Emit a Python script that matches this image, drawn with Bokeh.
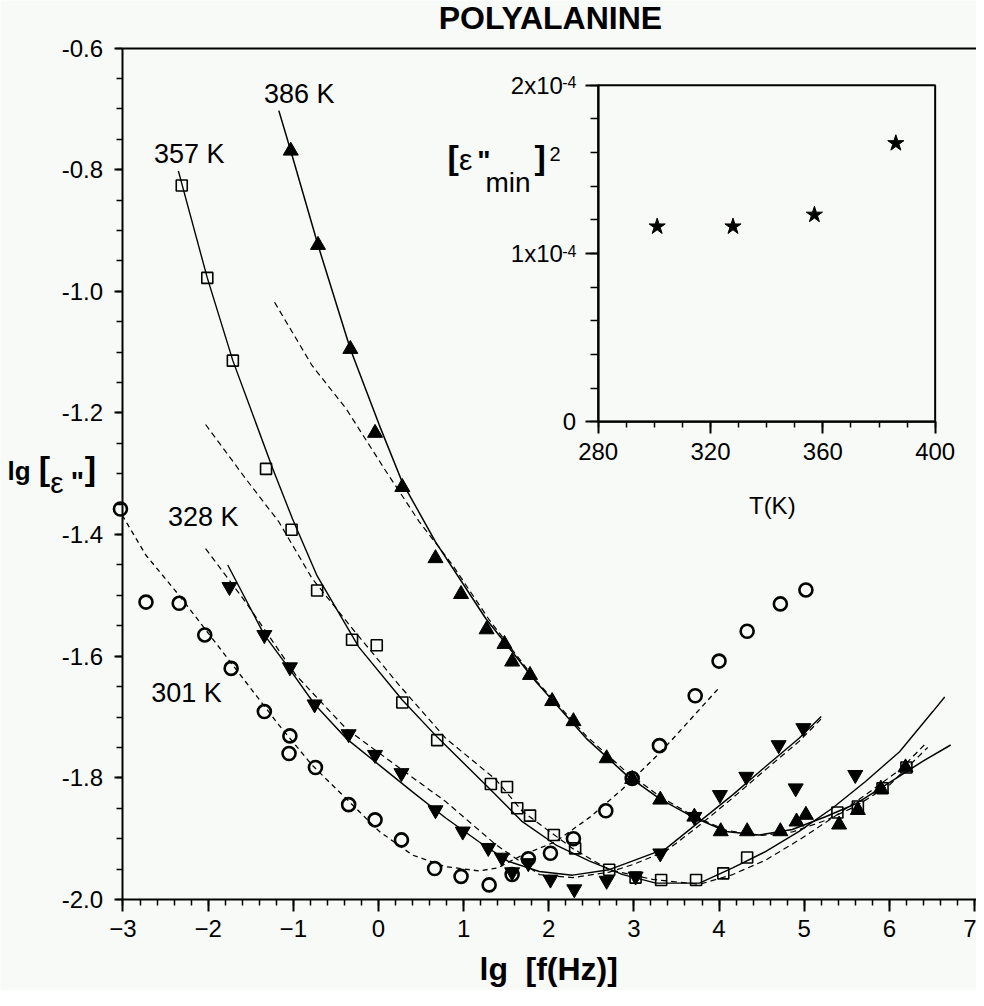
from bokeh.plotting import figure
from bokeh.models import Range1d, LinearAxis, FixedTicker, NumeralTickFormatter, Label
from bokeh.embed import file_html
from bokeh.resources import INLINE

# ---------------- data ----------------
# 301 K  (open circles)
lgf_301 = [-3.03, -2.73, -2.34, -2.04, -1.73, -1.34, -1.04, -1.05, -0.74, -0.35, -0.04, 0.27, 0.66,
           0.97, 1.30, 1.57, 1.76, 2.02, 2.29, 2.67, 2.98, 3.30, 3.72, 4.00, 4.33, 4.72, 5.02]
eps_301 = [-1.358, -1.511, -1.513, -1.565, -1.620, -1.691, -1.731, -1.760, -1.783, -1.844, -1.869,
           -1.902, -1.949, -1.962, -1.976, -1.959, -1.933, -1.924, -1.900, -1.854, -1.801, -1.747,
           -1.665, -1.608, -1.559, -1.514, -1.491]
# 328 K  (filled down triangles)
lgf_328 = [-1.75, -1.34, -1.04, -0.75, -0.35, -0.04, 0.27, 0.67, 0.99, 1.29, 1.45, 1.57, 1.76, 2.02,
           2.30, 2.68, 3.02, 3.31, 3.71, 4.01, 4.32, 4.70, 4.99, 4.90, 5.60]
eps_328 = [-1.486, -1.565, -1.618, -1.679, -1.728, -1.762, -1.792, -1.853, -1.888, -1.915, -1.931,
           -1.955, -1.940, -1.967, -1.983, -1.969, -1.962, -1.924, -1.864, -1.828, -1.798, -1.746,
           -1.718, -1.817, -1.795]
# 357 K  (open squares)
lgf_357 = [-2.31, -2.01, -1.71, -1.32, -1.02, -0.72, -0.31, -0.02, 0.28, 0.69, 1.32, 1.51, 1.63, 1.78,
           2.06, 2.31, 2.71, 3.02, 3.32, 3.73, 4.05, 4.33, 5.39, 5.63, 5.92, 6.20]
eps_357 = [-0.826, -0.978, -1.114, -1.292, -1.392, -1.492, -1.573, -1.582, -1.676, -1.738, -1.810,
           -1.815, -1.850, -1.862, -1.894, -1.916, -1.951, -1.964, -1.968, -1.968, -1.957, -1.931,
           -1.857, -1.847, -1.817, -1.783]
# 386 K  (filled up triangles)
lgf_386 = [-1.03, -0.71, -0.33, -0.04, 0.28, 0.67, 0.97, 1.27, 1.48, 1.57, 1.78, 2.04, 2.29, 2.68,
           2.98, 3.31, 3.71, 4.02, 4.33, 4.72, 4.91, 5.02, 5.41, 5.63, 5.90, 6.19]
eps_386 = [-0.769, -0.924, -1.095, -1.233, -1.322, -1.439, -1.498, -1.556, -1.580, -1.609, -1.631,
           -1.674, -1.707, -1.768, -1.802, -1.836, -1.864, -1.888, -1.888, -1.888, -1.872, -1.861,
           -1.877, -1.853, -1.818, -1.783]

# fitted curves
fit301d_x = [-3.01, -2.73, -2.34, -1.95, -1.56, -1.17, -0.78, -0.38, 0.01, 0.40, 0.79, 1.18, 1.40,
             1.69, 2.08, 2.48, 2.87, 3.26, 3.45, 4.00]
fit301d_y = [-1.368, -1.434, -1.500, -1.571, -1.642, -1.713, -1.779, -1.834, -1.888, -1.927, -1.946,
             -1.953, -1.948, -1.927, -1.905, -1.865, -1.818, -1.765, -1.737, -1.652]
fit328s_x = [-1.77, -1.34, -1.05, -0.75, -0.38, 0.01, 0.40, 0.79, 1.18, 1.52, 1.89, 2.28, 2.71, 2.98,
             3.38, 3.77, 4.16, 4.55, 4.94, 5.20]
fit328s_y = [-1.450, -1.565, -1.620, -1.679, -1.735, -1.779, -1.823, -1.866, -1.905, -1.937, -1.954,
             -1.960, -1.951, -1.937, -1.916, -1.872, -1.828, -1.781, -1.735, -1.699]
fit328d_x = [-2.03, -1.56, -0.97, -0.38, 0.20, 0.79, 1.38, 1.89, 2.28, 2.71, 3.00, 3.38, 3.77, 4.16,
             4.55, 4.94, 5.20]
fit328d_y = [-1.423, -1.511, -1.631, -1.719, -1.779, -1.839, -1.910, -1.959, -1.964, -1.955, -1.942,
             -1.920, -1.878, -1.833, -1.786, -1.740, -1.703]
fit357s_x = [-2.35, -2.01, -1.71, -1.24, -1.01, -0.72, -0.23, 0.28, 0.69, 1.30, 1.69, 2.08, 2.48, 2.87,
             3.26, 3.77, 4.16, 4.55, 4.94, 5.33, 5.72, 6.12, 6.51, 6.65]
fit357s_y = [-0.802, -0.978, -1.114, -1.292, -1.374, -1.468, -1.585, -1.672, -1.733, -1.817, -1.872,
             -1.910, -1.937, -1.959, -1.973, -1.973, -1.948, -1.921, -1.888, -1.850, -1.806, -1.757,
             -1.691, -1.667]
fit357d_x = [-2.03, -1.56, -1.17, -0.78, -0.31, 0.24, 0.79, 1.38, 1.69, 2.28, 2.71, 3.22, 3.77, 4.16,
             4.55, 4.94, 5.33, 5.72, 6.12, 6.41]
fit357d_y = [-1.219, -1.308, -1.379, -1.472, -1.554, -1.647, -1.735, -1.803, -1.855, -1.916, -1.951,
             -1.967, -1.975, -1.959, -1.935, -1.902, -1.866, -1.828, -1.787, -1.746]
fit386s_x = [-1.17, -1.03, -0.71, -0.33, 0.01, 0.28, 0.67, 1.26, 1.85, 2.44, 2.91, 3.30, 3.69, 4.08,
             4.47, 4.86, 5.25, 5.60, 6.00, 6.40, 6.72]
fit386s_y = [-0.703, -0.769, -0.924, -1.095, -1.220, -1.314, -1.412, -1.538, -1.642, -1.735, -1.795,
             -1.834, -1.864, -1.888, -1.894, -1.885, -1.864, -1.843, -1.808, -1.772, -1.746]
fit386d_x = [-1.22, -0.78, -0.38, 0.07, 0.48, 0.87, 1.30, 1.85, 2.44, 2.91, 3.30, 3.69, 4.08, 4.47,
             4.86, 5.25, 5.60, 6.00, 6.45]
fit386d_y = [-1.018, -1.122, -1.193, -1.292, -1.379, -1.450, -1.540, -1.640, -1.731, -1.790, -1.830,
             -1.862, -1.886, -1.895, -1.889, -1.870, -1.847, -1.812, -1.750]

# inset
T_inset = [301, 328, 357, 386]
emin2_inset = [1.16e-4, 1.16e-4, 1.23e-4, 1.655e-4]

# ticks
x_ticks = [-3, -2, -1, 0, 1, 2, 3, 4, 5, 6, 7]
y_ticks = [-2.0, -1.8, -1.6, -1.4, -1.2, -1.0, -0.8, -0.6]
inset_x_ticks = [280, 320, 360, 400]
inset_y_ticks = [0, 1e-4, 2e-4]
inset_y_labels = ["0", "1x10\u2007", "2x10\u2007"]
inset_y_exp = "-4"

# ---------------- figure ----------------
BG = "#f7faf7"
FONT = "Liberation Sans"
X_END = 7.0235

p = figure(width=976, height=990, output_backend="svg", toolbar_location=None,
           x_range=Range1d(-4.4386, X_END), y_range=Range1d(-2.1496, -0.5219),
           x_axis_location=None, y_axis_location=None,
           min_border_left=0, min_border_right=0, min_border_top=0, min_border_bottom=0,
           background_fill_color=BG, border_fill_color=BG, outline_line_color=None)
p.grid.visible = False


def style_axis(ax, tick_out, minor_out, standoff):
    ax.axis_line_width = 2
    ax.axis_line_color = "black"
    ax.major_tick_in = 0
    ax.minor_tick_in = 0
    ax.major_tick_out = tick_out
    ax.minor_tick_out = minor_out
    ax.major_tick_line_width = 2
    ax.minor_tick_line_width = 1.5
    ax.major_tick_line_color = "black"
    ax.minor_tick_line_color = "black"
    ax.major_label_text_font = FONT
    ax.major_label_text_font_size = "24px"
    ax.major_label_text_color = "black"
    ax.major_label_standoff = standoff


# main axes, placed at the data edges
xa = LinearAxis(fixed_location=y_ticks[0], bounds=(x_ticks[0], X_END),
                ticker=FixedTicker(ticks=x_ticks, minor_ticks=[-3 + 0.2 * i for i in range(51)]))
ya = LinearAxis(fixed_location=x_ticks[0], bounds=(y_ticks[0], y_ticks[-1]),
                ticker=FixedTicker(ticks=y_ticks, minor_ticks=[-2.0 + 0.05 * i for i in range(29)]),
                formatter=NumeralTickFormatter(format="0.0"))
top = LinearAxis(fixed_location=y_ticks[-1], bounds=(x_ticks[0], X_END), ticker=FixedTicker(ticks=[]))
style_axis(xa, 12, 6, 8)
style_axis(ya, 8, 6, 12)
style_axis(top, 0, 0, 0)
top.major_label_text_font_size = "0px"
p.add_layout(xa, "below")
p.add_layout(ya, "left")
p.add_layout(top, "above")

# fitted lines
p.line(fit301d_x, fit301d_y, line_color="black", line_width=1.3, line_dash="5 4")
p.line(fit328s_x, fit328s_y, line_color="black", line_width=1.4)
p.line(fit328d_x, fit328d_y, line_color="black", line_width=1.2, line_dash="6 4")
p.line(fit357s_x, fit357s_y, line_color="black", line_width=1.4)
p.line(fit357d_x, fit357d_y, line_color="black", line_width=1.2, line_dash="6 4")
p.line(fit386s_x, fit386s_y, line_color="black", line_width=1.5)
p.line(fit386d_x, fit386d_y, line_color="black", line_width=1.2, line_dash="6 4")

# data points
p.scatter(lgf_301, eps_301, marker="circle", size=13, fill_color=None, line_color="black", line_width=2.6)
p.scatter(lgf_357, eps_357, marker="square", size=11, fill_color=None, line_color="black", line_width=1.6)
p.scatter(lgf_328, eps_328, marker="inverted_triangle", size=15, fill_color="black", line_color="black")
p.scatter(lgf_386, eps_386, marker="triangle", size=15, fill_color="black", line_color="black")

# ---------------- inset ----------------
p.extra_x_ranges = {"ix": Range1d(280 - (605.7 - 8) / 2.808, 280 + (984 - 605.7) / 2.808)}
p.extra_y_ranges = {"iy": Range1d(-(998 - 429.3) / 168.3e4, (429.3 - 8) / 168.3e4)}

iax = LinearAxis(x_range_name="ix", y_range_name="iy", fixed_location=inset_y_ticks[0],
                 bounds=(inset_x_ticks[0], inset_x_ticks[-1]),
                 ticker=FixedTicker(ticks=inset_x_ticks, minor_ticks=[280 + 10 * i for i in range(13)]))
iay = LinearAxis(x_range_name="ix", y_range_name="iy", fixed_location=inset_x_ticks[0],
                 bounds=(inset_y_ticks[0], inset_y_ticks[-1]),
                 ticker=FixedTicker(ticks=inset_y_ticks, minor_ticks=[0.2e-4 * i for i in range(11)]),
                 major_label_overrides=dict(zip(inset_y_ticks, inset_y_labels)))
style_axis(iax, 12, 6, 9)
style_axis(iay, 13, 8, 9)
p.add_layout(iax, "below")
p.add_layout(iay, "left")

p.quad(left=[inset_x_ticks[0]], right=[inset_x_ticks[-1]], bottom=[inset_y_ticks[0]],
       top=[inset_y_ticks[-1]], x_range_name="ix", y_range_name="iy",
       fill_color=None, line_color="black", line_width=2)
p.scatter(T_inset, emin2_inset, marker="star", size=17, fill_color="black", line_color="black",
          x_range_name="ix", y_range_name="iy")


def lab(x, y, text, size, style="normal", align="center", baseline="middle", **kw):
    p.add_layout(Label(x=x, y=y, text=text, text_font=FONT, text_font_size=size,
                       text_font_style=style, text_align=align, text_baseline=baseline,
                       text_color="black", **kw))


# exponents of the inset tick labels
for t in inset_y_ticks[1:]:
    lab(inset_x_ticks[0], t, inset_y_exp, "16px", align="left", baseline="alphabetic",
        x_range_name="ix", y_range_name="iy", x_offset=-36, y_offset=3)

lab(342, -0.50e-4, "T(K)", "24px", x_range_name="ix", y_range_name="iy")

# inset y label  [ε"min]^2
lab(0.811, -0.780, "[", "34px", "bold", align="left")
lab(0.945, -0.783, "\u03b5", "30px", align="left", baseline="alphabetic")
lab(1.160, -0.785, "\"", "28px", "bold", align="left", baseline="alphabetic")
lab(1.257, -0.821, "min", "28px", align="left", baseline="alphabetic")
lab(1.833, -0.780, "]", "34px", "bold", align="left")
lab(2.009, -0.775, "2", "20px", align="left", baseline="alphabetic")

# curve labels
lab(-0.931, -0.676, "386 K", "27px")
lab(-2.223, -0.774, "357 K", "27px")
lab(-2.057, -1.371, "328 K", "27px")
lab(-2.254, -1.661, "301 K", "27px")

# title and axis labels
lab(2.02, -0.550, "POLYALANINE", "32px", "bold")
lab(1.187, -2.114, "lg", "32px", "bold", align="left")
lab(1.727, -2.114, "[f(Hz)]", "32px", "bold", align="left")

lab(-4.356, -1.295, "lg", "26px", "bold", align="left", baseline="alphabetic")
lab(-3.990, -1.290, "[", "34px", "bold", align="left")
lab(-3.855, -1.314, "\u03b5", "30px", align="left", baseline="alphabetic")
lab(-3.615, -1.312, "\"", "28px", "bold", align="left", baseline="alphabetic")
lab(-3.450, -1.290, "]", "34px", "bold", align="left")

open("out.html", "w").write(file_html(p, INLINE))
